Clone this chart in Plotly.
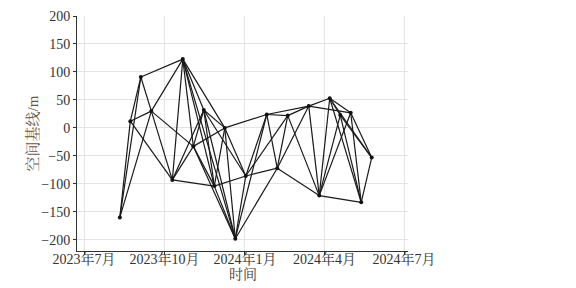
import plotly.graph_objects as go

# acquisition dates and perpendicular baselines (m)
dates = ["2023-08-11", "2023-08-23", "2023-09-04", "2023-09-16", "2023-10-10",
         "2023-10-22", "2023-11-03", "2023-11-15", "2023-11-27", "2023-12-09",
         "2023-12-21", "2024-01-02", "2024-01-26", "2024-02-07", "2024-02-19",
         "2024-03-14", "2024-03-26", "2024-04-07", "2024-04-19", "2024-05-01",
         "2024-05-13", "2024-05-25"]
baselines = [-160, 12, 91, 30, -93,
             123, -33, 32, -104, 0,
             -198, -86, 24, -72, 22,
             39, -121, 53, 23, 27,
             -133, -53]

# interferometric pairs (indices into dates)
pairs = [(0, 1), (0, 2), (0, 3),
         (1, 2), (1, 3), (1, 4),
         (2, 3), (2, 5),
         (3, 4), (3, 5), (3, 6),
         (4, 5), (4, 6), (4, 7), (4, 8),
         (5, 6), (5, 7), (5, 8), (5, 9), (5, 10),
         (6, 7), (6, 8), (6, 9), (6, 10),
         (7, 8), (7, 9), (7, 10), (7, 11),
         (8, 9), (8, 10), (8, 11),
         (9, 10), (9, 11), (9, 12),
         (10, 11), (10, 12), (10, 13),
         (11, 12), (11, 13), (11, 14),
         (12, 13), (12, 14), (12, 15),
         (13, 14), (13, 15), (13, 16),
         (14, 15), (14, 16),
         (15, 16), (15, 17), (15, 19),
         (16, 17), (16, 18), (16, 19), (16, 20),
         (17, 18), (17, 19), (17, 20), (17, 21),
         (18, 20), (18, 21),
         (19, 20), (19, 21),
         (20, 21)]

x_tickvals = ["2023-07-01", "2023-10-01", "2024-01-01", "2024-04-01", "2024-07-01"]
x_ticktext = ["2023年7月", "2023年10月", "2024年1月", "2024年4月", "2024年7月"]
y_tickvals = [-200, -150, -100, -50, 0, 50, 100, 150, 200]

FONT = "Liberation Serif, Times New Roman, Noto Serif CJK SC, Noto Sans CJK SC, serif"

lx, ly = [], []
for a, b in pairs:
    lx += [dates[a], dates[b], None]
    ly += [baselines[a], baselines[b], None]

fig = go.Figure()
fig.add_trace(go.Scatter(x=lx, y=ly, mode="lines",
                         line=dict(color="#1a1a1a", width=1.2),
                         hoverinfo="skip", showlegend=False))
fig.add_trace(go.Scatter(x=dates, y=baselines, mode="markers",
                         marker=dict(color="#111111", size=4),
                         showlegend=False))

fig.update_layout(
    width=576, height=288,
    margin=dict(l=77, r=168, t=16, b=37, autoexpand=False),
    paper_bgcolor="white", plot_bgcolor="white",
    font=dict(family=FONT, size=14, color="#333333"),
    annotations=[
        dict(text="时间", xref="paper", yref="paper", x=0.5, y=0,
             yshift=-23, yanchor="middle", showarrow=False,
             font=dict(size=14, color="#4a4038")),
        dict(text="空间基线/m", xref="paper", yref="paper", x=0, y=0.5,
             xshift=-45, xanchor="center", textangle=-90, showarrow=False,
             font=dict(size=15, color="#6a5546")),
    ],
)
fig.update_xaxes(
    range=["2023-06-23", "2024-07-05 12:00"],
    tickmode="array", tickvals=x_tickvals, ticktext=x_ticktext,
    showgrid=True, gridcolor="#e3e3e3", gridwidth=1,
    showline=True, linecolor="#333333", linewidth=1,
    ticks="outside", ticklen=3, tickcolor="#333333",
    ticklabelstandoff=-8,
    zeroline=False, automargin=False,
    tickfont=dict(size=14, color="#333333"),
)
fig.update_yaxes(
    range=[-220, 200],
    tickmode="array", tickvals=y_tickvals,
    showgrid=True, gridcolor="#e3e3e3", gridwidth=1,
    showline=True, linecolor="#333333", linewidth=1,
    ticks="outside", ticklen=3, tickcolor="#333333",
    zeroline=False, automargin=False,
    tickfont=dict(size=14, color="#333333"),
)

fig.write_html("out.html")
